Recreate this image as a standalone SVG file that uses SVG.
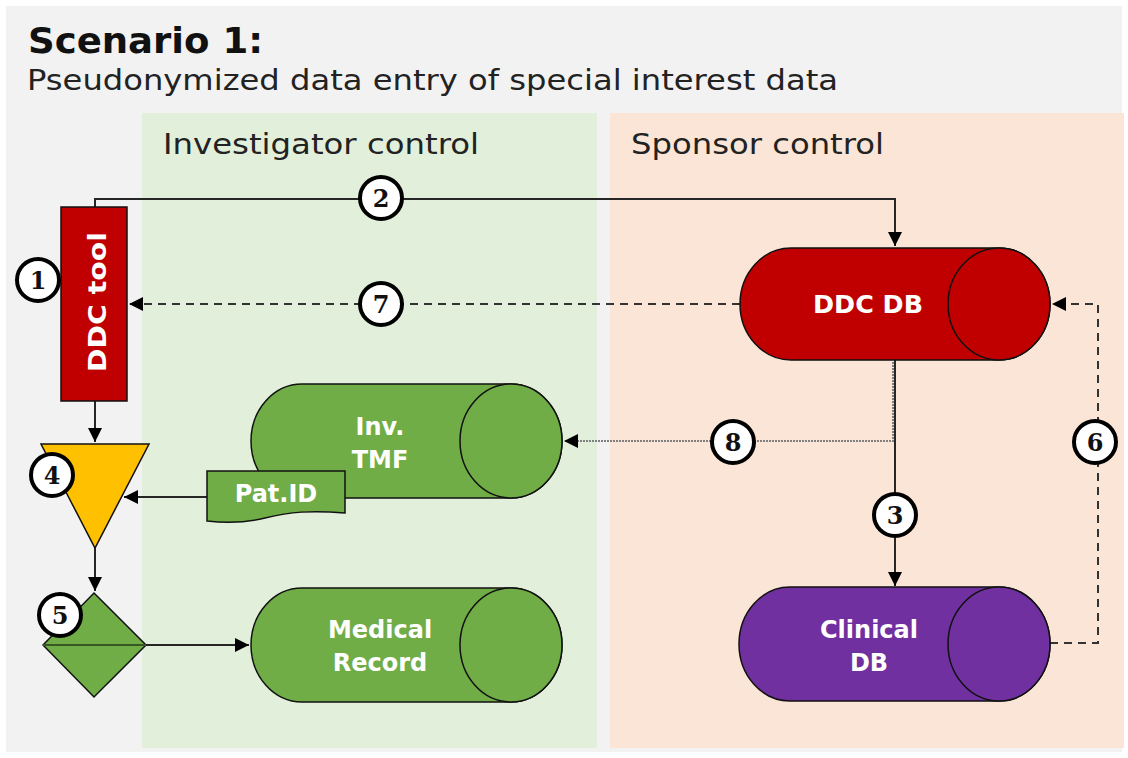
<svg xmlns="http://www.w3.org/2000/svg" width="1128" height="758" viewBox="0 0 1128 758">
<defs>
<style>
.lbl{font-family:"DejaVu Sans","Liberation Sans",sans-serif;font-weight:bold;fill:#fff;font-size:24px;text-anchor:middle}
.hdr{font-family:"DejaVu Sans","Liberation Sans",sans-serif;fill:#222;font-size:29px}
.num{font-family:"DejaVu Serif","Liberation Serif",serif;font-weight:bold;fill:#111;font-size:24px;text-anchor:middle}
.badge{fill:#fff;stroke:#000;stroke-width:4}
.solid{fill:none;stroke:#262626;stroke-width:2}
.dash{fill:none;stroke:#333;stroke-width:2;stroke-dasharray:8 6}
.dot{fill:none;stroke:#7f7f7f;stroke-width:2;stroke-dasharray:2 1}
.shape{stroke:#111;stroke-width:1.5}
</style>
<marker id="ah" viewBox="0 0 10 10" refX="10" refY="5" markerWidth="14" markerHeight="14" markerUnits="userSpaceOnUse" orient="auto">
<path d="M0,0 L10,5 L0,10 Z" fill="#000"/>
</marker>
</defs>
<rect x="0" y="0" width="1128" height="758" fill="#fff"/>
<rect x="6" y="6" width="1116" height="746" fill="#f2f2f2"/>
<rect x="142" y="113" width="455" height="635" fill="#e2efda"/>
<rect x="610" y="113" width="514" height="635" fill="#fbe5d6"/>
<text x="28" y="53" font-family="DejaVu Sans, Liberation Sans, sans-serif" font-weight="bold" font-size="35" fill="#111" textLength="235" lengthAdjust="spacingAndGlyphs">Scenario 1:</text>
<text x="27" y="90" class="hdr" textLength="811" lengthAdjust="spacingAndGlyphs">Pseudonymized data entry of special interest data</text>
<text x="163" y="154" class="hdr" textLength="316" lengthAdjust="spacingAndGlyphs">Investigator control</text>
<text x="631" y="154" class="hdr" textLength="253" lengthAdjust="spacingAndGlyphs">Sponsor control</text>

<g id="connectors">
<path class="solid" d="M95,207 V199 H895 V246" marker-end="url(#ah)"/>
<path class="dash" d="M740,304 H129" marker-end="url(#ah)"/>
<path class="dot" d="M893,362 V441 H564" marker-end="url(#ah)"/>
<path class="solid" d="M895,360 V586" marker-end="url(#ah)"/>
<path class="dash" d="M1050,643 H1098 V304 H1052" marker-end="url(#ah)"/>
<path class="solid" d="M95,401 V442" marker-end="url(#ah)"/>
<path class="solid" d="M207,497 H124" marker-end="url(#ah)"/>
<path class="solid" d="M95,548 V591" marker-end="url(#ah)"/>
<path class="solid" d="M146,645 H249" marker-end="url(#ah)"/>
</g>

<g id="ddc-tool">
<rect x="61" y="207" width="66" height="194" fill="#c00000" class="shape"/>
<text class="lbl" transform="translate(106,302) rotate(-90)" font-size="30" textLength="140" lengthAdjust="spacingAndGlyphs">DDC tool</text>
</g>

<g id="ddc-db">
<path d="M791,248 H999 A51,56 0 0 1 999,360 H791 A51,56 0 0 1 791,248 Z" fill="#c00000" class="shape"/>
<ellipse cx="999" cy="304" rx="51" ry="56" fill="#c00000" class="shape"/>
<text class="lbl" x="868" y="313" textLength="110" lengthAdjust="spacingAndGlyphs">DDC DB</text>
</g>

<g id="inv-tmf">
<path d="M302,384 H511 A51,57 0 0 1 511,498 H302 A51,57 0 0 1 302,384 Z" fill="#70ad47" class="shape"/>
<ellipse cx="511" cy="441" rx="51" ry="57" fill="#70ad47" class="shape"/>
<text class="lbl" x="380" y="435">Inv.</text>
<text class="lbl" x="380" y="468">TMF</text>
</g>

<g id="pat-id">
<path d="M207,471 H345 V513 C310,510 290,512 265,518 C245,523 225,523 207,521 Z" fill="#70ad47" class="shape"/>
<text class="lbl" x="276" y="502">Pat.ID</text>
</g>

<g id="medical-record">
<path d="M302,588 H511 A51,57 0 0 1 511,702 H302 A51,57 0 0 1 302,588 Z" fill="#70ad47" class="shape"/>
<ellipse cx="511" cy="645" rx="51" ry="57" fill="#70ad47" class="shape"/>
<text class="lbl" x="380" y="638">Medical</text>
<text class="lbl" x="380" y="671">Record</text>
</g>

<g id="clinical-db">
<path d="M790,587 H999 A51,57 0 0 1 999,701 H790 A51,57 0 0 1 790,587 Z" fill="#7030a0" class="shape"/>
<ellipse cx="999" cy="644" rx="51" ry="57" fill="#7030a0" class="shape"/>
<text class="lbl" x="869" y="638">Clinical</text>
<text class="lbl" x="869" y="671">DB</text>
</g>

<g id="merge">
<path d="M41,444 H149 L95,548 Z" fill="#ffc000" class="shape"/>
</g>

<g id="sort">
<path d="M94,593 L146,645 L94,697 L43,645 Z" fill="#70ad47" class="shape"/>
<path d="M43,645 H146" stroke="#385723" stroke-width="2"/>
</g>

<g id="badge-1"><circle class="badge" cx="38" cy="280" r="21"/><text class="num" x="38" y="289">1</text></g>
<g id="badge-2"><circle class="badge" cx="381" cy="198" r="21"/><text class="num" x="381" y="207">2</text></g>
<g id="badge-3"><circle class="badge" cx="895" cy="515" r="21"/><text class="num" x="895" y="524">3</text></g>
<g id="badge-4"><circle class="badge" cx="52" cy="475" r="21"/><text class="num" x="52" y="484">4</text></g>
<g id="badge-5"><circle class="badge" cx="60" cy="615" r="21"/><text class="num" x="60" y="624">5</text></g>
<g id="badge-6"><circle class="badge" cx="1095" cy="442" r="21"/><text class="num" x="1095" y="451">6</text></g>
<g id="badge-7"><circle class="badge" cx="381" cy="304" r="21"/><text class="num" x="381" y="313">7</text></g>
<g id="badge-8"><circle class="badge" cx="733" cy="442" r="21"/><text class="num" x="733" y="451">8</text></g>
</svg>
